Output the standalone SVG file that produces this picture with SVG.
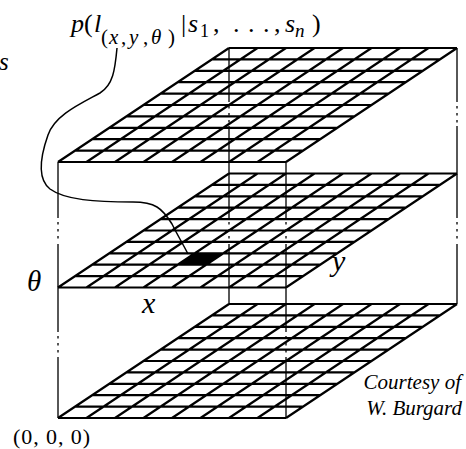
<svg xmlns="http://www.w3.org/2000/svg" xmlns:xlink="http://www.w3.org/1999/xlink" width="466" height="449" viewBox="0 0 466 449">
<style>
.g{fill:none;stroke:#000;stroke-width:2.2}
.v{fill:none;stroke:#111;stroke-width:1.4}
.c{fill:none;stroke:#000;stroke-width:1.5}
.i{font-style:italic}
</style>
<defs>
<path id="grid" class="g" d="M0,0h228M17.1,-11.4h228M34.2,-22.8h228M51.3,-34.2h228M68.4,-45.6h228M85.5,-57h228M102.6,-68.4h228M119.7,-79.8h228M136.8,-91.2h228M153.9,-102.6h228M171,-114h228M0,0l171,-114M28.5,0l171,-114M57,0l171,-114M85.5,0l171,-114M114,0l171,-114M142.5,0l171,-114M171,0l171,-114M199.5,0l171,-114M228,0l171,-114"/>
</defs>
<g id="verticals">
<path class="v" d="M58,162V218M58,222v2.5M58,229v2.5M58,236v2.5M58,244V287.5M58,287.5V332M58,336v2.5M58,343v2.5M58,350v2.5M58,357V418"/>
<path class="v" d="M286,162V218M286,222v2.5M286,229v2.5M286,236v2.5M286,244V287.5M286,287.5V332M286,336v2.5M286,343v2.5M286,350v2.5M286,357V418"/>
<path class="v" d="M229,48V102M229,106v2.5M229,113v2.5M229,120v2.5M229,126V173.5M229,173.5V218M229,222v2.5M229,229v2.5M229,236v2.5M229,244V304"/>
<path class="v" d="M457,48V102M457,106v2.5M457,113v2.5M457,120v2.5M457,126V173.5M457,173.5V218M457,222v2.5M457,229v2.5M457,236v2.5M457,244V304"/>
</g>
<g id="layer-top"><use xlink:href="#grid" href="#grid" transform="translate(58,162)"/></g>
<g id="layer-middle"><use xlink:href="#grid" href="#grid" transform="translate(58,287.5)"/>
<polygon points="177.7,264.7 206.2,264.7 223.3,253.3 194.8,253.3" fill="#000"/></g>
<g id="layer-bottom"><use xlink:href="#grid" href="#grid" transform="translate(58,418)"/></g>
<g id="connectors">
<path class="c" d="M117,48C115,70 113,85 100,93C80,104 55,115 48,135C42,152 36,178 50,189C65,200 95,202 133,202C155,202 162,208 172,224C178,236 184,246 188,254"/>
</g>
<g id="label-prob">
<text font-family="Liberation Serif, serif" font-size="26"><tspan class="i" x="71" y="32">p</tspan><tspan x="84" y="32">(</tspan><tspan class="i" x="94" y="32">l</tspan><tspan x="101" y="44" font-size="21">(</tspan><tspan class="i" x="109" y="44" font-size="21">x</tspan><tspan x="121" y="44" font-size="21">,</tspan><tspan class="i" x="129" y="44" font-size="21">y</tspan><tspan x="143" y="44" font-size="21">,</tspan><tspan class="i" x="151" y="44" font-size="21">θ</tspan><tspan x="168" y="44" font-size="21">)</tspan><tspan x="181" y="32">|</tspan><tspan class="i" x="188" y="32">s</tspan><tspan x="200" y="37" font-size="18">1</tspan><tspan x="213" y="32">,</tspan><tspan x="233" y="32">.</tspan><tspan x="248" y="32">.</tspan><tspan x="263" y="32">.</tspan><tspan x="274" y="32">,</tspan><tspan class="i" x="285" y="32">s</tspan><tspan class="i" x="295" y="37" font-size="19">n</tspan><tspan x="312" y="32">)</tspan></text>
</g>
<g id="label-s"><text class="i" font-family="Liberation Serif, serif" x="-1" y="70" font-size="25">s</text></g>
<g id="label-theta"><text class="i" font-family="Liberation Serif, serif" x="27" y="291" font-size="29">θ</text></g>
<g id="label-x"><text class="i" font-family="Liberation Serif, serif" x="142" y="313" font-size="30">x</text></g>
<g id="label-y"><text class="i" font-family="Liberation Serif, serif" x="332" y="271" font-size="30">y</text></g>
<g id="label-origin"><text font-family="Liberation Serif, serif" x="13" y="444" font-size="22" textLength="77" lengthAdjust="spacing">(0, 0, 0)</text></g>
<g id="label-credit"><text class="i" font-family="Liberation Serif, serif" font-size="21" text-anchor="end"><tspan x="461" y="389">Courtesy of</tspan><tspan x="462" y="415">W. Burgard</tspan></text></g>
</svg>
